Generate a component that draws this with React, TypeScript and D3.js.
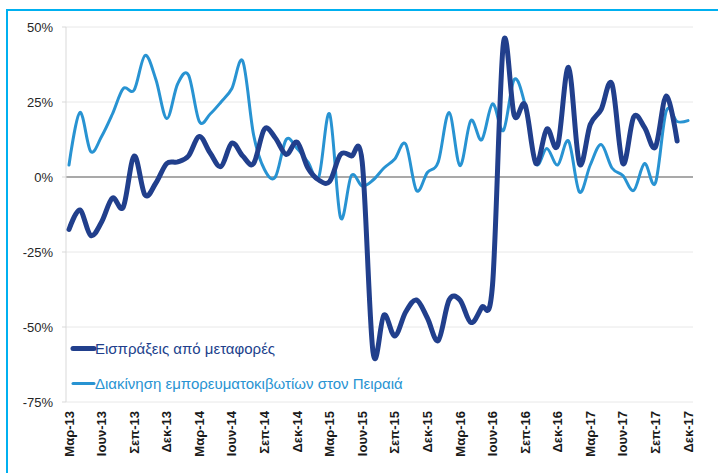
import React from "react";
import * as d3 from "d3";

// Ετήσια μεταβολή (%), μηνιαία στοιχεία Μαρ-13 .. Δεκ-17
const tickLabels = [
  "Μαρ-13", "Ιουν-13", "Σεπ-13", "Δεκ-13",
  "Μαρ-14", "Ιουν-14", "Σεπ-14", "Δεκ-14",
  "Μαρ-15", "Ιουν-15", "Σεπ-15", "Δεκ-15",
  "Μαρ-16", "Ιουν-16", "Σεπ-16", "Δεκ-16",
  "Μαρ-17", "Ιουν-17", "Σεπ-17", "Δεκ-17",
];

const transportReceipts = [
  -17.5, -11, -19.5, -15, -7, -10, 7, -6, -2, 4.5, 5, 7,
  13.5, 8, 3.5, 11.3, 7, 4.5, 16, 13, 7.5, 11.6, 3, -1,
  -1.5, 7.5, 7, 5, -58.5, -46, -53, -45, -41, -47, -54.5, -41,
  -41, -48.5, -43.5, -36, 44.5, 20.5, 24, 4.5, 16, 10.5, 36.5, 4.5,
  17.5, 22.5, 31, 4.5, 20, 16.5, 10, 27, 12,
];

const containerMoves = [
  4, 21.5, 8.5, 13.5, 21, 29.5, 29, 40.5, 32.5, 19.5, 31, 34,
  18.5, 21, 25, 29.5, 38.6, 14, 2.5, 0, 12.5, 9.5, 5, 0,
  21, -13.5, 0.5, -3, -1, 3, 6, 11, -4.5, 1.5, 5, 21.5,
  3.8, 18.8, 12.4, 24.4, 15.5, 32.5, 24, 4.5, 9.5, 4, 12, -5,
  4, 10.8, 3, 0.5, -4.5, 4.5, -2, 22, 18.5, 18.8,
];

const yTicks = [50, 25, 0, -25, -50, -75];

const seriesNames = [
  "Εισπράξεις από μεταφορές",
  "Διακίνηση εμπορευματοκιβωτίων στον Πειραιά",
];

const DARK = "#213f8c";
const LIGHT = "#2893d2";

export default function App() {
  const width = 718;
  const height = 473;
  const plotLeft = 66;
  const plotRight = 693;

  const x = d3.scaleLinear().domain([0, containerMoves.length - 1]).range([69, 688]);
  const y = d3.scaleLinear().domain([-75, 50]).range([402, 27]);

  const line = d3
    .line<number>()
    .x((_, i) => x(i))
    .y((d) => y(d))
    .curve(d3.curveCatmullRom.alpha(0));

  const font = "'Liberation Sans', Arial, sans-serif";

  return (
    <svg
      width={width}
      height={height}
      style={{ position: "absolute", left: 0, top: 0, background: "#fff" }}
    >
      <rect x={7} y={10} width={730} height={480} fill="none" stroke="#00b0f0" strokeWidth={2} />

      {/* grid */}
      {yTicks.map((t) => (
        <g key={t}>
          <line
            x1={plotLeft}
            x2={plotRight}
            y1={y(t)}
            y2={y(t)}
            stroke={t === 0 ? "#8c8c8c" : "#e8e8e8"}
            strokeWidth={t === 0 ? 1.5 : 1}
          />
          <line x1={plotLeft - 4} x2={plotLeft} y1={y(t)} y2={y(t)} stroke="#d9d9d9" />
          <text
            x={53}
            y={y(t)}
            dy="0.35em"
            textAnchor="end"
            fontFamily={font}
            fontSize={13}
            fill="#262626"
          >
            {t + "%"}
          </text>
        </g>
      ))}
      <line x1={plotLeft} x2={plotLeft} y1={y(50)} y2={y(-75)} stroke="#d9d9d9" />

      {/* x labels */}
      {tickLabels.map((lab, k) => (
        <text
          key={lab}
          transform={`translate(${x(k * 3)},411) rotate(-90)`}
          dy="0.35em"
          textAnchor="end"
          fontFamily={font}
          fontSize={13}
          fontWeight="bold"
          fill="#1a1a1a"
        >
          {lab}
        </text>
      ))}

      <path d={line(containerMoves) ?? ""} fill="none" stroke={LIGHT} strokeWidth={3} strokeLinecap="round" />
      <path d={line(transportReceipts) ?? ""} fill="none" stroke={DARK} strokeWidth={5} strokeLinecap="round" />

      {/* legend */}
      <line x1={73} x2={94} y1={348.5} y2={348.5} stroke={DARK} strokeWidth={5} strokeLinecap="round" />
      <text x={95} y={348.5} dy="0.36em" fontFamily={font} fontSize={15} fill={DARK}>
        {seriesNames[0]}
      </text>
      <line x1={73} x2={94} y1={383.5} y2={383.5} stroke={LIGHT} strokeWidth={3} strokeLinecap="round" />
      <text x={95} y={383.5} dy="0.36em" fontFamily={font} fontSize={15} fill={LIGHT}>
        {seriesNames[1]}
      </text>
    </svg>
  );
}
